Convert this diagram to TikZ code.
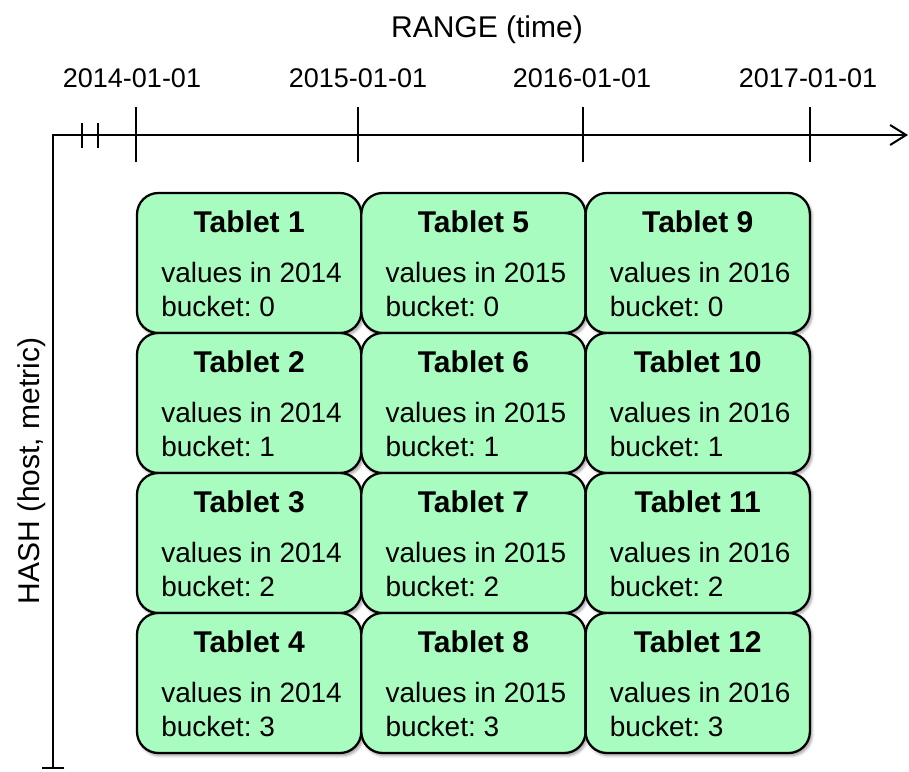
\documentclass[tikz,border=0pt]{standalone}
\usepackage{fontspec}
\setmainfont{Liberation Sans}
\usetikzlibrary{arrows.meta,shadows.blur}
\definecolor{tabfill}{RGB}{168,252,192}
\begin{document}
\frenchspacing
\begin{tikzpicture}[x=0.75pt,y=-0.75pt,
  tab/.style={draw=black, line width=1.7pt, fill=tabfill, rounded corners=16pt,
    minimum width=168.2pt, minimum height=105pt, inner sep=0pt, outer sep=0pt,
    blur shadow={shadow xshift=1.5pt, shadow yshift=-2pt, shadow blur steps=6, shadow opacity=40}},
  ttl/.style={font=\fontsize{22.5pt}{26pt}\selectfont\bfseries, inner sep=0pt},
  body/.style={font=\fontsize{21pt}{24pt}\selectfont, inner sep=0pt},
  axlbl/.style={font=\fontsize{22.5pt}{26pt}\selectfont, inner sep=0pt},
  datelbl/.style={font=\fontsize{20.25pt}{24pt}\selectfont, inner sep=0pt},
  axis/.style={line width=1.5pt, {Bar[width=17pt]}-{Straight Barb[length=12pt,width=15pt]}},
  tickmark/.style={line width=1.5pt}
]
\useasboundingbox (0,0) rectangle (909,771);
% axes
\coordinate (origin) at (53,135);
\coordinate (xend) at (908,135);
\coordinate (yend) at (53,769);
\draw[axis] (yend) -- (origin) -- (xend);
% break ticks
\draw[tickmark] (82,123) -- (82,148);
\draw[tickmark] (98,123) -- (98,148);
% ticks
\foreach \tx in {136,358,583,810}{
  \draw[tickmark] (\tx,107) -- (\tx,162);
}
% labels
\node[axlbl, anchor=base] (range) at (487,37) {RANGE (time)};
\node[axlbl, rotate=90, anchor=base] (hash) at (39,471) {HASH (host, metric)};
\node[datelbl, anchor=base] (d14) at (132,87) {2014-01-01};
\node[datelbl, anchor=base] (d15) at (358,87) {2015-01-01};
\node[datelbl, anchor=base] (d16) at (582,87) {2016-01-01};
\node[datelbl, anchor=base] (d17) at (808,87) {2017-01-01};
% tablets
\foreach \c in {0,1,2}{
  \foreach \r in {0,1,2,3}{
    \pgfmathtruncatemacro{\n}{4*\c+\r+1}
    \pgfmathtruncatemacro{\yr}{2014+\c}
    \node[tab] (t\n) at ({137+224.3*\c+112.15},{193+140*\r+70}) {};
    \node[ttl, anchor=base] (t\n-ttl) at ([yshift=-29.25pt]t\n.north) {Tablet \n};
    \node[body, anchor=base west] (t\n-val) at ([xshift=18pt,yshift=-66.75pt]t\n.north west) {values in \yr};
    \node[body, anchor=base west] (t\n-bkt) at ([xshift=18pt,yshift=-92.25pt]t\n.north west) {bucket: \r};
  }
}
\end{tikzpicture}
\end{document}
